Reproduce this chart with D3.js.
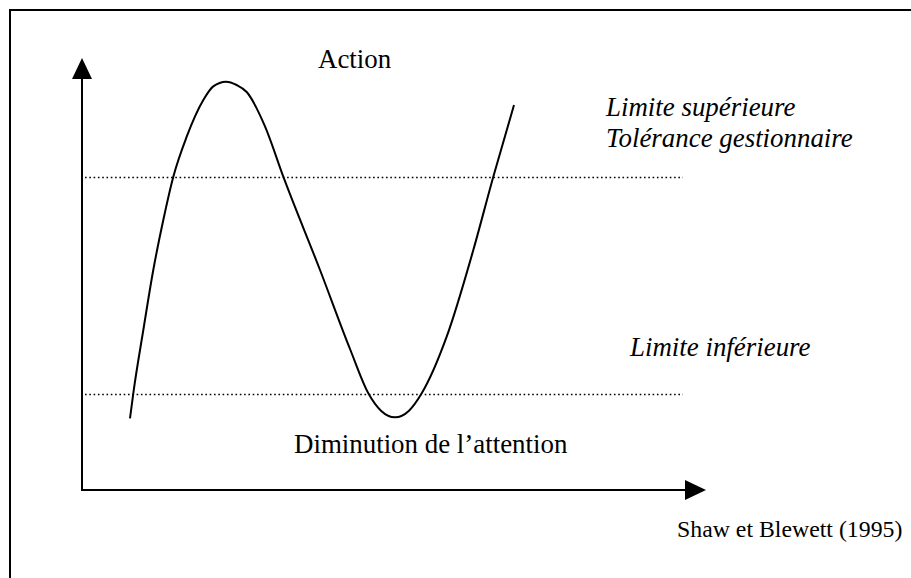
<!DOCTYPE html>
<html>
<head>
<meta charset="utf-8">
<script src="https://cdn.jsdelivr.net/npm/d3@7"></script>
<style>
  html, body { margin: 0; padding: 0; background: #fff; }
  svg { display: block; }
  text { font-family: "Liberation Serif", "Times New Roman", serif; fill: #000; }
</style>
</head>
<body>
<svg id="chart" width="911" height="578"></svg>
<script>
// ---- Data (abstract units) ----
const curveX = [8.0, 8.55, 10.22, 11.88, 13.55, 15.22, 17.45, 20.22, 21.88, 24.0, 25.78, 27.45, 30.5, 33.55, 39.67, 44.67, 47.72, 49.83, 52.17, 54.5, 56.62, 60.78, 65.22, 68.55, 72.0];
const curveY = [17.93, 24.18, 40, 55, 67.5, 78.33, 88.33, 97.5, 100.9, 102.08, 101.25, 99.5, 90.9, 78.33, 55, 35.25, 24.18, 19.83, 18.18, 19.83, 24.18, 38.33, 60, 78.33, 96.25];
const limitValues = [78.25, 24];           // upper, lower tolerance limits
const limitLabels = ["Limite supérieure", "Limite inférieure"];
const labels = {
  action: "Action",
  attention: "Diminution de l\u2019attention",
  tolerance: "Tolérance gestionnaire",
  source: "Shaw et Blewett (1995)"
};

// ---- Scales ----
const svg = d3.select("#chart");
const x = d3.scaleLinear().domain([0, 100]).range([82, 682]);
const y = d3.scaleLinear().domain([0, 110]).range([490, 50]);

// Frame (right/bottom edges beyond the page)
svg.append("rect")
  .attr("x", 10).attr("y", 10)
  .attr("width", 940).attr("height", 600)
  .attr("fill", "none").attr("stroke", "#000").attr("stroke-width", 2);

// Axes with arrowheads
const yTip = 58, xTip = 706;
svg.append("line")
  .attr("x1", x(0)).attr("y1", y(0)).attr("x2", x(0)).attr("y2", yTip + 18)
  .attr("stroke", "#000").attr("stroke-width", 2);
svg.append("path")
  .attr("d", `M${x(0)},${yTip} L${x(0) - 10},${yTip + 21} L${x(0) + 10},${yTip + 21} Z`)
  .attr("fill", "#000");
svg.append("line")
  .attr("x1", x(0) - 1).attr("y1", y(0)).attr("x2", xTip - 18).attr("y2", y(0))
  .attr("stroke", "#000").attr("stroke-width", 2);
svg.append("path")
  .attr("d", `M${xTip},${y(0)} L${xTip - 21},${y(0) - 10} L${xTip - 21},${y(0) + 10} Z`)
  .attr("fill", "#000");

// Dotted limit lines
svg.selectAll("line.limit").data(limitValues).enter().append("line")
  .attr("class", "limit")
  .attr("x1", 85).attr("x2", 683)
  .attr("y1", d => Math.round(y(d)) + 0.5).attr("y2", d => Math.round(y(d)) + 0.5)
  .attr("stroke", "#000").attr("stroke-width", 1.3)
  .attr("stroke-dasharray", "1.6,2.7");

// Curve
const pts = curveX.map((v, i) => [v, curveY[i]]);
const line = d3.line().x(d => x(d[0])).y(d => y(d[1])).curve(d3.curveMonotoneX);
svg.append("path")
  .datum(pts)
  .attr("d", line)
  .attr("fill", "none").attr("stroke", "#000").attr("stroke-width", 2);

// Labels
const fs = 26.9;
svg.append("text").attr("x", 318).attr("y", 68).attr("font-size", fs).text(labels.action);
svg.append("text").attr("x", 294).attr("y", 453).attr("font-size", fs).text(labels.attention);
svg.append("text").attr("x", 606).attr("y", 115.5).attr("font-size", fs).attr("font-style", "italic").text(limitLabels[0]);
svg.append("text").attr("x", 606).attr("y", 146.5).attr("font-size", fs).attr("font-style", "italic").text(labels.tolerance);
svg.append("text").attr("x", 630).attr("y", 356).attr("font-size", fs).attr("font-style", "italic").text(limitLabels[1]);
svg.append("text").attr("x", 677).attr("y", 537).attr("font-size", 23.8).text(labels.source);
</script>
</body>
</html>
